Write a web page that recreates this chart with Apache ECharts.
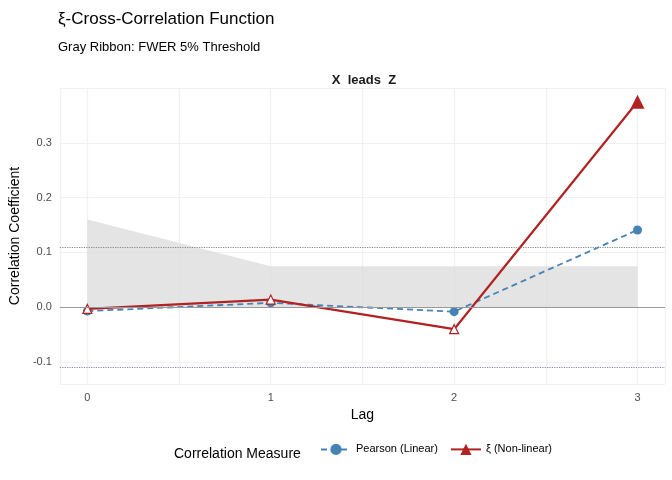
<!DOCTYPE html><html><head><meta charset="utf-8">
<script src="https://cdn.jsdelivr.net/npm/echarts@6/dist/echarts.min.js"></script>
<style>body{margin:0}#c{width:672px;height:480px}</style></head><body><div id="c"></div>
<script>
const lags=[0,1,2,3];
const pearson=[-0.007,0.008,-0.008,0.141];
const xi=[-0.003,0.014,-0.04,0.375];
const xiSig=[false,false,false,true];
const ribbon=[0.16,0.075,0.075,0.075];
const thrUp=0.113, thrLo=-0.113;
const ch=echarts.init(document.getElementById('c'));
const F='Liberation Sans';
const gl='#ebebeb';
ch.setOption({
 animation:false,
 textStyle:{fontFamily:F},
 title:[{text:'ξ-Cross-Correlation Function',left:53,top:6,textStyle:{fontSize:17,fontWeight:'normal',color:'#000',fontFamily:F}},
        {text:'Gray Ribbon: FWER 5% Threshold',left:53,top:36,textStyle:{fontSize:13,fontWeight:'normal',color:'#000',fontFamily:F}},
        {text:'X  leads  Z',left:359,top:69,textAlign:'center',textStyle:{fontSize:13,fontWeight:'bold',color:'#1a1a1a',fontFamily:F}}],
 grid:{left:53,right:7,top:88,bottom:96},
 xAxis:[{type:'value',min:-0.15,max:3.15,name:'Lag',nameLocation:'middle',nameGap:23,nameTextStyle:{fontSize:14,color:'#000'},
   axisLine:{show:false},axisTick:{show:false},axisLabel:{customValues:lags,color:'#4d4d4d',fontSize:11},
   splitLine:{show:true,lineStyle:{color:gl,width:1.2}},customValues:lags},
  {type:'value',min:-0.15,max:3.15,show:true,axisLine:{show:false},axisTick:{show:false},axisLabel:{show:false},
   customValues:[0.5,1.5,2.5],splitLine:{show:true,lineStyle:{color:'#f3f3f3',width:0.8}}}],
 yAxis:[{type:'value',min:-0.14,max:0.4,name:'Correlation Coefficient',nameLocation:'middle',nameGap:33,nameTextStyle:{fontSize:14,color:'#000'},
   customValues:[-0.1,0,0.1,0.2,0.3],axisLabel:{customValues:[-0.1,0,0.1,0.2,0.3],color:'#4d4d4d',fontSize:11,formatter:v=>v.toFixed(1)},
   axisLine:{show:false},axisTick:{show:false},splitLine:{lineStyle:{color:gl,width:1.2}}},
  {type:'value',min:-0.14,max:0.4,customValues:[-0.05,0.05,0.15,0.25,0.35],axisLabel:{show:false},axisLine:{show:false},axisTick:{show:false},
   splitLine:{show:true,lineStyle:{color:'#f3f3f3',width:0.8}}}],
 legend:{bottom:20,left:315,itemGap:12,itemWidth:30,textStyle:{fontSize:11,color:'#000'},data:['Pearson (Linear)','ξ (Non-linear)']},
 graphic:[{type:'text',left:174,bottom:19,style:{text:'Correlation Measure',font:'14px '+F,fill:'#000'}}],
 series:[
  {type:'line',name:'ribbon',data:lags.map((l,i)=>[l,ribbon[i]]),symbol:'none',lineStyle:{width:0},areaStyle:{color:'#d9d9d9',opacity:0.7,origin:0},z:1,
   markLine:{silent:true,symbol:'none',label:{show:false},data:[
     {yAxis:0,lineStyle:{color:'#999',type:'solid',width:1}},
     {yAxis:thrUp,lineStyle:{color:'#888',type:'dotted',width:1.2}},
     {yAxis:thrLo,lineStyle:{color:'#9080c0',type:'dotted',width:1.2}}]}},
  {type:'line',name:'Pearson (Linear)',data:lags.map((l,i)=>[l,pearson[i]]),symbol:'circle',symbolSize:9,
   itemStyle:{color:'#4682b4'},lineStyle:{color:'#4682b4',type:[6,4],width:1.8},z:3},
  {type:'line',name:'ξ (Non-linear)',data:lags.map((l,i)=>({value:[l,xi[i]],symbolSize:xiSig[i]?14:9,
     itemStyle:xiSig[i]?{color:'#b22222'}:{color:'#fff',borderColor:'#b22222',borderWidth:1.2}})),
   symbol:'triangle',itemStyle:{color:'#b22222'},lineStyle:{color:'#b22222',width:2.2},z:4}
 ]
});
</script></body></html>
